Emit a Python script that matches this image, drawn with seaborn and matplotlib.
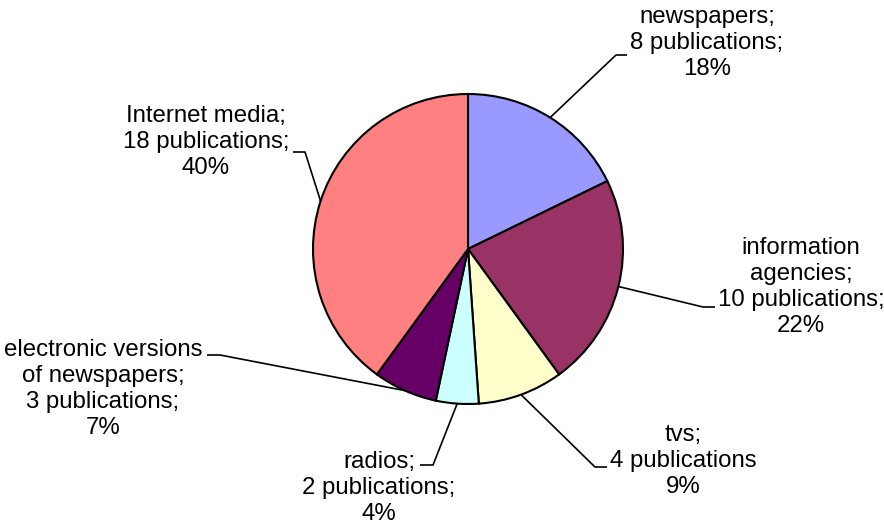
import numpy as np
import matplotlib
matplotlib.use("Agg")
import matplotlib.pyplot as plt
import seaborn as sns

categories = ["newspapers", "information\nagencies", "tvs", "radios",
              "electronic versions\nof newspapers", "Internet media"]
counts = [8, 10, 4, 2, 3, 18]
pcts = [18, 22, 9, 4, 7, 40]
sep = [";", ";", "", ";", ";", ";"]
colors_hex = ["#9999FF", "#993366", "#FFFFCC", "#CCFFFF", "#660066", "#FF8080"]

sns.set_theme(style="white")
plt.rcParams["font.family"] = ["Liberation Sans", "DejaVu Sans"]

W, H = 884, 523
fig = plt.figure(figsize=(W / 100, H / 100), dpi=100)
ax = fig.add_axes([0, 0, 1, 1])

cx, cy, R = 468, H - 249, 155
palette = sns.color_palette(colors_hex)
wedges, _ = ax.pie(counts, colors=palette, startangle=90, counterclock=False,
                   center=(cx, cy), radius=R, frame=True,
                   wedgeprops=dict(edgecolor="black", linewidth=1.5))
ax.set_xlim(0, W)
ax.set_ylim(0, H)
ax.set_aspect("equal")
ax.axis("off")

# layout: (elbow point, end of horizontal, text center) in pixel coords (y down)
layout = [
    ((616, 55), (627, 55), (707, 43)),
    ((703, 307), (715, 307), (801, 287)),
    ((595, 467), (607, 467), (683, 461)),
    ((433, 465), (420, 465), (379, 488)),
    ((220, 355), (207, 355), (103, 389)),
    ((305, 152), (293, 152), (206, 142)),
]

for w, cat, n, p, s, (elb, end, tc) in zip(wedges, categories, counts, pcts, sep, layout):
    ang = np.deg2rad((w.theta1 + w.theta2) / 2)
    x0 = cx + R * np.cos(ang)
    y0 = cy + R * np.sin(ang)
    ax.plot([x0, elb[0], end[0]], [y0, H - elb[1], H - end[1]],
            color="black", lw=1.2, solid_capstyle="butt")
    label = f"{cat};\n{n} publications{s}\n{p}%"
    ax.text(tc[0], H - tc[1], label, ha="center", va="center",
            multialignment="center", fontsize=17.3, linespacing=1.22,
            color="black")

fig.savefig("out.png", dpi=100)
